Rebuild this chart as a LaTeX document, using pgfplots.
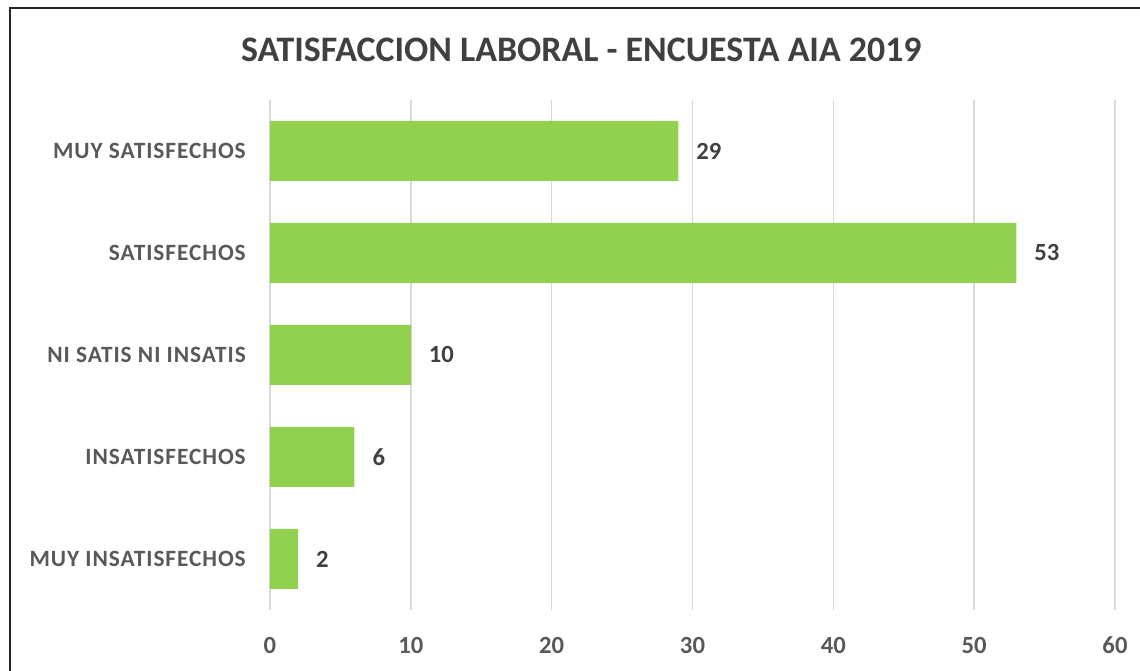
\documentclass[border=0pt]{standalone}
\usepackage{pgfplots}
\pgfplotsset{compat=1.18}
\usepackage{fontspec}
\setmainfont{Carlito}
\newfontfamily\lsfont{Carlito}[LetterSpace=4]
\definecolor{barGreen}{HTML}{92D050}
\definecolor{gridGray}{HTML}{D9D9D9}
\definecolor{txtDark}{HTML}{404040}
\definecolor{txtMid}{HTML}{595959}
\begin{document}
\begin{tikzpicture}
\path[use as bounding box] (0,0) rectangle (855pt,503.25pt);
\draw[line width=1.5pt, black!85] (7.5pt,-5pt) -- (7.5pt,497.25pt) -- (865pt,497.25pt);
\node[font=\bfseries\fontsize{26.9}{30}\selectfont, text=txtDark] at (436pt,465.75pt) {SATISFACCION LABORAL - ENCUESTA AIA 2019};
\begin{axis}[
  at={(202.5pt,45.75pt)}, anchor=south west,
  scale only axis, width=633.75pt, height=382.5pt,
  xbar, bar width=45pt,
  xmin=0, xmax=60, ymin=-0.5, ymax=4.5,
  xtick={0,10,...,60},
  ytick={0,1,2,3,4},
  yticklabels={MUY INSATISFECHOS, INSATISFECHOS, NI SATIS NI INSATIS, SATISFECHOS, MUY SATISFECHOS},
  axis lines=left, axis line style={draw=none,-},
  major tick length=0pt,
  xmajorgrids, grid style={gridGray, line width=1.1pt},
  /pgf/number format/assume math mode=true,
  xticklabel style={font=\bfseries\fontsize{18.5}{22}\selectfont, text=txtMid, inner sep=0pt, yshift=-20pt},
  yticklabel style={font=\lsfont\bfseries\fontsize{17.5}{21}\selectfont, text=txtMid, inner sep=0pt, xshift=-18pt},
  nodes near coords,
  nodes near coords style={font=\bfseries\fontsize{18.5}{22}\selectfont, text=txtDark, anchor=west, xshift=10pt},
]
\addplot[fill=barGreen, draw=none] coordinates {(2,0) (6,1) (10,2) (53,3) (29,4)};
\end{axis}
\end{tikzpicture}
\end{document}
